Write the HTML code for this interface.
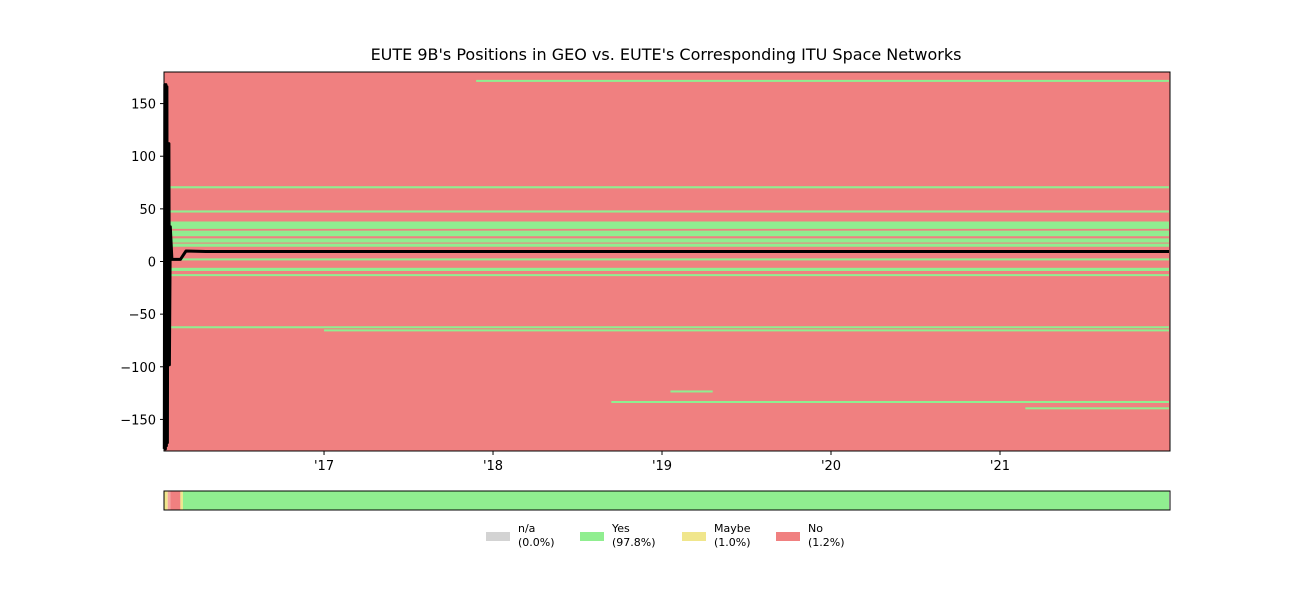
<!DOCTYPE html>
<html><head><meta charset="utf-8"><style>
body{margin:0;background:#fff;font-family:"Liberation Sans","DejaVu Sans",sans-serif}
svg text{font-family:"DejaVu Sans","Liberation Sans",sans-serif}
</style></head><body>
<svg id="c" width="1300" height="600" xmlns="http://www.w3.org/2000/svg"></svg>
<script>
// data
const bandLo   = [171.5, 69.5, 46.5, 31, 28, 24, 18, 14, 1, -9, -13, -62.5, -65.5, -123.5, -133.5, -139.5];
const bandHi   = [172.5, 71.5, 48.5, 38, 29.3, 27.5, 22, 17, 3, -6, -12, -61.5, -64.5, -122.5, -132.5, -138.5];
const bandFrom = [2017.9, 2016.09, 2016.09, 2016.09, 2016.09, 2016.09, 2016.09, 2016.09, 2016.09, 2016.09, 2016.09, 2016.09, 2017.0, 2019.05, 2018.7, 2021.15];
const bandTo   = [2022.0, 2022.0, 2022.0, 2022.0, 2022.0, 2022.0, 2022.0, 2022.0, 2022.0, 2022.0, 2022.0, 2022.0, 2022.0, 2019.3, 2022.0, 2022.0];
const posT = [2016.055, 2016.058, 2016.061, 2016.064, 2016.067, 2016.070, 2016.073, 2016.076, 2016.079, 2016.082, 2016.085, 2016.09, 2016.10, 2016.15, 2016.183, 2016.3, 2017.1, 2022.0];
const posV = [-178, 168, -178, 168, -175, 166, -172, 112, -98, 112, -98, 33, 2, 2, 10, 9.5, 9.5, 9.5];
const yTicks = [150, 100, 50, 0, -50, -100, -150];
const yLabels = ["150", "100", "50", "0", "\u221250", "\u2212100", "\u2212150"];
const xTicks = [2017, 2018, 2019, 2020, 2021];
const xLabels = ["'17", "'18", "'19", "'20", "'21"];
const statusFrom = [2016.053, 2016.075, 2016.09, 2016.15, 2016.165];
const statusTo   = [2016.075, 2016.09, 2016.15, 2016.165, 2022.0];
const statusCol  = ["#f0e68c", "#f4a6a0", "#f08080", "#f0e68c", "#90ee90"];
const legendNames = ["n/a", "Yes", "Maybe", "No"];
const legendPct = ["(0.0%)", "(97.8%)", "(1.0%)", "(1.2%)"];
const legendCol = ["#d3d3d3", "#90ee90", "#f0e68c", "#f08080"];

const L=164,R=1170,T=72,B=451,x0=2016.053,x1=2022.006;
const X=t=>L+(t-x0)/(x1-x0)*(R-L);
const Y=v=>T+(180-v)/360*(B-T);
const svg=document.getElementById('c');
const NS="http://www.w3.org/2000/svg";
function mk(tag,attrs,parent){const e=document.createElementNS(NS,tag);for(const k in attrs)e.setAttribute(k,attrs[k]);(parent||svg).appendChild(e);return e;}

let t=mk('text',{x:666,y:60,'text-anchor':'middle','font-size':16});t.textContent="EUTE 9B's Positions in GEO vs. EUTE's Corresponding ITU Space Networks";



let bg=mk('rect',{x:L,y:T,width:R-L,height:B-T,fill:'#f08080'});


for(let i=0;i<bandLo.length;i++){
  const r=mk('rect',{x:X(bandFrom[i]),y:Y(bandHi[i]),width:X(bandTo[i])-X(bandFrom[i]),height:Math.max(2,Y(bandLo[i])-Y(bandHi[i])),fill:'#90ee90'});
  
  
}
let d=posT.map((tt,i)=>(i?'L':'M')+X(tt).toFixed(1)+' '+Y(posV[i]).toFixed(1)).join(' ');
let ln=mk('path',{d:d,fill:'none',stroke:'#000','stroke-width':3,'stroke-linejoin':'round'});


let fr=mk('rect',{x:L,y:T,width:R-L,height:B-T,fill:'none',stroke:'#000','stroke-width':1});



yTicks.forEach((v,i)=>{
  mk('line',{x1:L-4,x2:L,y1:Y(v),y2:Y(v),stroke:'#000'});
  const tx=mk('text',{x:L-8,y:Y(v)+5,'text-anchor':'end','font-size':13});tx.textContent=yLabels[i];
  
  
});
xTicks.forEach((v,i)=>{
  mk('line',{x1:X(v),x2:X(v),y1:B,y2:B+4,stroke:'#000'});
  const tx=mk('text',{x:X(v),y:B+19,'text-anchor':'middle','font-size':13});tx.textContent=xLabels[i];
  
  
});

for(let i=0;i<statusFrom.length;i++){
  const r=mk('rect',{x:X(statusFrom[i]),y:491,width:X(statusTo[i])-X(statusFrom[i]),height:19,fill:statusCol[i]});
  
  
}
let sf=mk('rect',{x:L,y:491,width:R-L,height:19,fill:'none',stroke:'#000'});



const lx=[486,580,682,776];
legendNames.forEach((n,i)=>{
  const g=mk('g',{});
  
  
  mk('rect',{x:lx[i],y:532,width:24,height:9,fill:legendCol[i]},g);
  const a=mk('text',{x:lx[i]+32,y:532,'font-size':11},g);a.textContent=n;
  const b=mk('text',{x:lx[i]+32,y:546,'font-size':11},g);b.textContent=legendPct[i];
});
</script>
</body></html>
